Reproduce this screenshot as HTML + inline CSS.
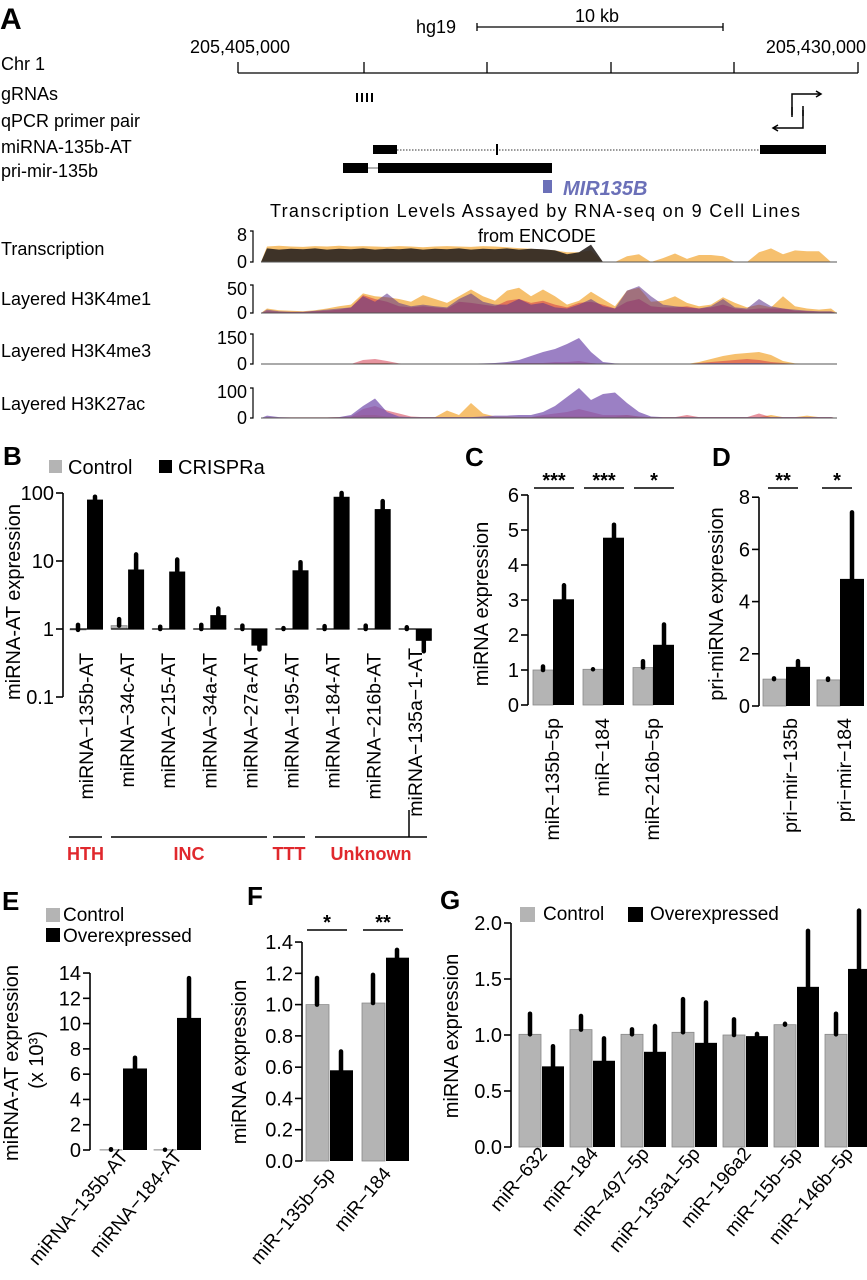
<!DOCTYPE html>
<html><head><meta charset="utf-8"><style>
html,body{margin:0;padding:0;background:#fff;}
svg{display:block;font-family:"Liberation Sans",Arial,sans-serif;}
</style></head><body>
<svg id="fig" width="867" height="1280" viewBox="0 0 867 1280" xmlns="http://www.w3.org/2000/svg">
<g id="panelA">
<text x="0" y="29" font-size="30" font-weight="bold">A</text>
<text x="416" y="33" font-size="18">hg19</text>
<g stroke="#000" stroke-width="1.3"><line x1="477" y1="27" x2="723" y2="27"/><line x1="477" y1="23" x2="477" y2="31"/><line x1="723" y1="23" x2="723" y2="31"/></g>
<text x="597" y="22" font-size="18" text-anchor="middle">10 kb</text>
<text x="240" y="53" font-size="18" text-anchor="middle">205,405,000</text>
<text x="866" y="53" font-size="18" text-anchor="end">205,430,000</text>
<text x="1" y="70" font-size="18">Chr 1</text>
<g stroke="#000" stroke-width="1.3">
<line x1="238" y1="73" x2="858" y2="73"/><line x1="238" y1="62" x2="238" y2="73"/><line x1="364" y1="62" x2="364" y2="73"/><line x1="487" y1="62" x2="487" y2="73"/><line x1="611" y1="62" x2="611" y2="73"/><line x1="734" y1="62" x2="734" y2="73"/><line x1="858" y1="62" x2="858" y2="73"/></g>
<text x="1" y="100" font-size="18">gRNAs</text>
<g stroke="#000" stroke-width="2"><line x1="357" y1="93" x2="357" y2="102"/><line x1="362" y1="93" x2="362" y2="102"/><line x1="367" y1="93" x2="367" y2="102"/><line x1="372" y1="93" x2="372" y2="102"/></g>
<text x="1" y="127" font-size="18">qPCR primer pair</text>
<g stroke="#000" stroke-width="1.5" fill="none">
<polyline points="792,117 792,94 820,94"/><polyline points="816,91 821,94 816,97"/><line x1="792" y1="107" x2="792" y2="115"/><line x1="803" y1="106" x2="803" y2="116"/><polyline points="803,110 803,128 774,128"/><polyline points="778,125 773,128 778,131"/></g>
<text x="1" y="153" font-size="18">miRNA-135b-AT</text>
<g>
<line x1="397" y1="150" x2="760" y2="150" stroke="#999" stroke-width="2" stroke-dasharray="1.5 1.5"/>
<rect x="373" y="145" width="24" height="9" fill="#000"/><rect x="496" y="144" width="2" height="11" fill="#000"/><rect x="760" y="145" width="66" height="9" fill="#000"/></g>
<text x="1" y="177" font-size="18">pri-mir-135b</text>
<g>
<line x1="368" y1="168" x2="378" y2="168" stroke="#999" stroke-width="1.5"/>
<rect x="343" y="163" width="25" height="10" fill="#000"/><rect x="378" y="163" width="174" height="10" fill="#000"/></g>
<rect x="543" y="180" width="9" height="13" fill="#6b70b8"/>
<text x="563" y="195" font-size="20" font-weight="bold" font-style="italic" fill="#6b70b8">MIR135B</text>
<text x="535" y="217" font-size="18" text-anchor="middle" textLength="530">Transcription Levels Assayed by RNA-seq on 9 Cell Lines</text>
<text x="537" y="242" font-size="18" text-anchor="middle">from ENCODE</text>
<text x="1" y="255" font-size="18">Transcription</text>
<text x="1" y="305" font-size="18">Layered H3K4me1</text>
<text x="1" y="357" font-size="18">Layered H3K4me3</text>
<text x="1" y="410" font-size="18">Layered H3K27ac</text>
<g id="tracks"></g>
</g>
<g id="charts"></g>
</svg>
<script>
const trDark = [3.5,3.2,3.4,3.3,3.5,3.2,3.4,3.3,3.5,3.2,3.4,3.3,3.5,3.2,3.4,3.3,3.5,3.2,3.4,3.3,3.5,3.2,3.4,3.3,3.0,2.0,2.5,4.5,0,0,0,0,0,0,0,0,0,0,0,0,0,0,0,0,0,0,0,0];
const trOrange = [4,4.2,4,3.9,4.1,4,4.2,4,4.1,4,3.9,4.1,4,3.8,4,4.1,4,3.9,4.1,4,3.8,3.6,3.4,3.2,3,2.5,2.5,3,0,0,1.5,2,0,1,2.2,0.8,1.8,1.8,1.5,0,0,2.5,3.5,2,3,2.8,2.8,0];
const me1Orange = [8,5,4,3,5,8,12,15,35,30,28,25,20,32,25,18,30,42,30,22,40,45,30,42,30,15,22,38,25,12,40,45,20,22,30,18,12,15,28,18,10,15,10,30,12,8,6,8];
const me1Purple = [6,3,2,2,4,6,8,10,30,20,35,18,12,15,12,10,25,35,20,15,15,25,15,18,10,8,15,25,12,8,40,48,30,15,12,10,8,12,25,10,8,25,12,8,6,4,3,3];
const me1Red = [3,2,2,2,3,4,6,10,32,25,20,12,10,12,10,8,20,18,15,12,22,25,18,22,15,10,18,20,15,8,20,25,12,10,10,12,8,10,15,8,6,8,8,8,4,3,2,2];
const me3Purple = [2,2,2,2,2,2,2,2,3,3,3,2,2,2,2,2,2,2,3,5,10,20,40,60,75,100,130,60,10,3,2,2,2,2,2,2,3,5,5,5,5,5,3,2,2,2,2,2];
const me3Orange = [0,0,0,0,0,0,0,0,5,5,5,0,0,0,0,0,0,0,0,0,5,5,5,5,5,5,5,5,0,0,0,0,0,0,0,0,10,25,40,50,55,60,45,15,3,2,2,2];
const me3Red = [0,0,0,0,0,0,0,0,20,25,15,3,0,0,0,0,0,0,0,0,3,5,5,5,10,10,15,5,0,0,0,0,0,0,0,0,5,10,15,20,25,20,10,5,0,0,0,0];
const k27Purple = [8,3,2,2,2,2,3,10,40,65,20,5,3,3,3,3,3,3,5,8,8,10,10,20,40,70,100,60,80,85,50,20,5,3,3,3,3,3,3,3,3,3,3,3,3,3,3,3];
const k27Orange = [3,2,2,2,2,2,3,5,10,10,5,3,3,3,3,25,10,50,15,5,5,3,3,5,5,5,5,5,5,5,10,5,3,3,3,3,3,3,3,3,3,3,10,3,3,8,3,3];
const k27Red = [2,2,2,2,2,2,3,5,30,40,25,15,5,3,3,3,3,3,3,3,3,3,3,10,15,20,30,20,10,10,10,5,3,3,3,10,3,3,3,3,3,15,3,3,3,3,3,3];
const trackTicks = [["8","0"],["50","0"],["150","0"],["100","0"]];

const bCats = ["miRNA\u2212135b-AT","miRNA\u221234c-AT","miRNA\u2212215-AT","miRNA\u221234a-AT","miRNA\u221227a-AT","miRNA\u2212195-AT","miRNA\u2212184-AT","miRNA\u2212216b-AT","miRNA\u2212135a\u22121-AT"];
const bCtrl = [0.97,1.12,1,1,1,1,1,1,1];
const bCtrlHi = [1.15,1.4,1.08,1.15,1.12,1.03,1.1,1.12,1.06];
const bCrispr = [80,7.5,7,1.6,0.57,7.3,88,58,0.67];
const bCrisprHi = [88,12.5,10.5,2.0,0.5,9.6,100,76,0.47];
const bTicks = [100,10,1,0.1];
const bTickLabels = ["100","10","1","0.1"];
const bGroups = ["HTH","INC","TTT","Unknown"];
const cCats = ["miR\u2212135b\u22125p","miR\u2212184","miR\u2212216b\u22125p"];
const cCtrl = [1.0,1.02,1.07];
const cCtrlHi = [1.1,1.02,1.25];
const cOe = [3.02,4.78,1.72];
const cOeHi = [3.42,5.15,2.3];
const cSig = ["***","***","*"];
const cTicks = [0,1,2,3,4,5,6];
const dCats = ["pri\u2212mir\u2212135b","pri\u2212mir\u2212184"];
const dCtrl = [1.03,1.0];
const dCtrlHi = [1.06,1.05];
const dOe = [1.5,4.87];
const dOeHi = [1.72,7.42];
const dSig = ["**","*"];
const dTicks = [0,2,4,6,8];
const eCats = ["miRNA\u2212135b-AT","miRNA\u2212184-AT"];
const eCtrl = [0.02,0.02];
const eCtrlHi = [0.06,0.02];
const eOe = [6.45,10.45];
const eOeHi = [7.3,13.6];
const eTicks = [0,2,4,6,8,10,12,14];
const fCats = ["miR\u2212135b\u22125p","miR\u2212184"];
const fCtrl = [1.0,1.01];
const fCtrlHi = [1.17,1.19];
const fOe = [0.58,1.3];
const fOeHi = [0.7,1.35];
const fSig = ["*","**"];
const fTicks = [0,0.2,0.4,0.6,0.8,1.0,1.2,1.4];
const gCats = ["miR\u2212632","miR\u2212184","miR\u2212497\u22125p","miR\u2212135a1\u22125p","miR\u2212196a2","miR\u221215b\u22125p","miR\u2212146b\u22125p"];
const gCtrl = [1.006,1.048,1.006,1.024,1.0,1.092,1.006];
const gCtrlHi = [1.19,1.17,1.05,1.32,1.14,1.10,1.19];
const gOe = [0.72,0.77,0.85,0.93,0.99,1.43,1.59];
const gOeHi = [0.9,0.97,1.08,1.29,1.01,1.93,2.11];
const gTicks = [0,0.5,1.0,1.5,2.0];

const NS = "http://www.w3.org/2000/svg";
const tracks = document.getElementById('tracks');
const charts = document.getElementById('charts');
function mk(tag, parent){ const e=document.createElementNS(NS,tag); parent.appendChild(e); return e; }
function txt(parent, s, x, y, size, anchor){ const t=mk('text',parent); t.textContent=s; t.setAttribute('x',x); t.setAttribute('y',y); t.setAttribute('font-size',size); t.setAttribute('text-anchor',anchor||'start'); return t; }

const trX0 = 261, trDx = 12;
function area(vals, base, scale, color, op, name){
  let d = 'M'+trX0+','+base;
  vals.forEach((v,i)=>{ const x=trX0+i*trDx+trDx/2; d+=' L'+x+','+(base-v*scale).toFixed(1); if(v===0){ d+=' L'+x+','+base; } });
  d += ' L'+(trX0+vals.length*trDx)+','+base+' Z';
  const p = mk('path',tracks);
  p.setAttribute('d',d); p.setAttribute('fill',color); p.setAttribute('fill-opacity',op);
  
  
}
const trackDefs = [
  {top:231,base:262,max:8,layers:[[trOrange,'#f4b04a',0.8,'transcription-orange'],[trDark,'#2a2420',0.9,'transcription-dark']]},
  {top:285,base:313,max:50,layers:[[me1Orange,'#f4b04a',0.8,'h3k4me1-orange'],[me1Red,'#d02a40',0.5,'h3k4me1-red'],[me1Purple,'#5b2f8a',0.55,'h3k4me1-purple']]},
  {top:334,base:364,max:150,layers:[[me3Orange,'#f4b04a',0.8,'h3k4me3-orange'],[me3Red,'#d02a40',0.5,'h3k4me3-red'],[me3Purple,'#7a55b0',0.75,'h3k4me3-purple']]},
  {top:388,base:418,max:100,layers:[[k27Orange,'#f4b04a',0.8,'h3k27ac-orange'],[k27Red,'#d02a40',0.5,'h3k27ac-red'],[k27Purple,'#7a55b0',0.75,'h3k27ac-purple']]}
];
trackDefs.forEach((t,k)=>{
  const sc=(t.base-t.top)/t.max;
  t.layers.forEach(l=>area(l[0],t.base,sc,l[1],l[2],l[3]));
  const bl = mk('line',tracks);
  bl.setAttribute('x1',trX0); bl.setAttribute('x2',trX0+48*trDx); bl.setAttribute('y1',t.base); bl.setAttribute('y2',t.base); bl.setAttribute('stroke','#555'); bl.setAttribute('stroke-width','1');
  
  
  const br = mk('polyline',tracks);
  br.setAttribute('points',(250)+','+t.top+' 253,'+t.top+' 253,'+t.base+' 250,'+t.base); br.setAttribute('fill','none'); br.setAttribute('stroke','#000'); br.setAttribute('stroke-width','1.2');
  
  
  const t1 = txt(tracks, trackTicks[k][0], 247, t.top+10, 18, 'end');
  
  
  const t0 = txt(tracks, trackTicks[k][1], 247, t.base+6, 18, 'end');
  
  
});

function line(parent,x1,y1,x2,y2,w,col){ const l=mk('line',parent); l.setAttribute('x1',x1); l.setAttribute('y1',y1); l.setAttribute('x2',x2); l.setAttribute('y2',y2); l.setAttribute('stroke',col||'#000'); l.setAttribute('stroke-width',w); return l; }
function yAxis(g, ax, ticks, labels, y, size){
  const top = Math.min(...ticks.map(y)), bot = Math.max(...ticks.map(y));
  const a = line(g, ax, top, ax, bot, 1.6);
  
  
  ticks.forEach((t,i)=>{
    const tk = line(g, ax-7, y(t), ax, y(t), 1.6);
    
    
    const lb = txt(g, labels[i], ax-9, y(t)+7, size||20, 'end');
    
    
  });
}
function bar(g, x, w, y0, y1, fill, name){
  const r = mk('rect', g);
  r.setAttribute('x',x); r.setAttribute('width',w);
  r.setAttribute('y',Math.min(y0,y1)); r.setAttribute('height',Math.max(Math.abs(y1-y0),0.01));
  r.setAttribute('fill',fill);
  if(fill!=='#000'){ r.setAttribute('stroke','#888'); r.setAttribute('stroke-width','0.8'); }
  
  
}
function err(g, x, ya, yb){
  const l = line(g, x, ya, x, yb, 4.5);
  l.setAttribute('stroke-linecap','round');
  
  
}
function vLabel(g, s, x, yTop, size){
  const t = txt(g, s, x, yTop, size, 'end');
  t.setAttribute('dominant-baseline','central');
  t.setAttribute('transform','rotate(-90 '+x+' '+yTop+')');
  
  
}
function dLabel(g, s, x, y, size){
  const t = txt(g, s, x, y, size, 'end');
  t.setAttribute('transform','rotate(-50 '+x+' '+y+')');
  
  
}
function yTitle(g, s, x, y, size){
  const t = txt(g, s, x, y, size||20, 'middle');
  t.setAttribute('dominant-baseline','central');
  t.setAttribute('transform','rotate(-90 '+x+' '+y+')');
  
  
  return t;
}
function letter(g, s, x, y){
  const t = txt(g, s, x, y, 26, 'start'); t.setAttribute('font-weight','bold');
  
  
}
function legendBox(g, x, y, w, fill, label, tx, ty, size){
  const r = mk('rect', g); r.setAttribute('x',x); r.setAttribute('y',y); r.setAttribute('width',w); r.setAttribute('height',w); r.setAttribute('fill',fill);
  
  
  const t = txt(g, label, tx, ty, size||20, 'start');
  
  
}
function sig(g, s, x1, x2, yl){
  const l = line(g, x1, yl, x2, yl, 1.5);
  
  
  const t = txt(g, s, (x1+x2)/2, yl-1, 20, 'middle'); t.setAttribute('font-weight','bold');
  
  
}
const GRAY = '#b4b4b4';

(function(){
  const g = mk('g', charts);
  
  
  const y = v => 629 - 68*Math.log10(v);
  letter(g,'B',3,465);
  legendBox(g,49,460,13,GRAY,'Control',68,474);
  legendBox(g,159,460,13,'#000','CRISPRa',178,474);
  yAxis(g, 63, bTicks, bTickLabels, y);
  yTitle(g, 'miRNA-AT expression', 14, 602);
  bCats.forEach((c,i)=>{
    const gx = 70 + 41.1*i;
    bar(g, gx, 16, y(1), y(bCtrl[i]), GRAY, 'bar-control');
    bar(g, gx+17, 16, y(1), y(bCrispr[i]), '#000', 'bar-crispra');
    const bl = line(g, gx, y(1), gx+33, y(1), 1.2);
    
    
    err(g, gx+8, y(bCtrl[i]), y(bCtrlHi[i]));
    err(g, gx+25, y(bCrispr[i]), y(bCrisprHi[i]));
    vLabel(g, c, gx+17, i===8?648:653, 19.5);
  });
  const spans = [[69,102],[111,267],[273,305],[315,427]];
  spans.forEach((s,i)=>{
    const l = line(g, s[0], 837, s[1], 837, 1.5);
    
    
    const t = txt(g, bGroups[i], (s[0]+s[1])/2, 860, 18, 'middle');
    t.setAttribute('font-weight','bold'); t.setAttribute('fill','#e0282d');
    
    
  });
  const vt = line(g, 409, 810, 409, 837, 1.5);
  
  
})();

(function(){
  const g = mk('g', charts);
  
  
  const y = v => 705 - 35*v;
  letter(g,'C',465,466);
  yAxis(g, 528, cTicks, cTicks.map(String), y);
  yTitle(g, 'miRNA expression', 482, 604);
  cCats.forEach((c,i)=>{
    const gx = 533 + 50*i;
    bar(g, gx, 20, y(0), y(cCtrl[i]), GRAY, 'bar-control');
    bar(g, gx+20, 21, y(0), y(cOe[i]), '#000', 'bar-treated');
    err(g, gx+10, y(cCtrl[i]), y(cCtrlHi[i]));
    err(g, gx+31, y(cOe[i]), y(cOeHi[i]));
    vLabel(g, c, gx+20, 718, 19.5);
    sig(g, cSig[i], gx+1, gx+41, 488);
  });
})();

(function(){
  const g = mk('g', charts);
  
  
  const y = v => 706 - 26.1*v;
  letter(g,'D',712,466);
  yAxis(g, 759, dTicks, dTicks.map(String), y);
  yTitle(g, 'pri-miRNA expression', 717, 604);
  dCats.forEach((c,i)=>{
    const gx = 763 + 54*i;
    bar(g, gx, 23, y(0), y(dCtrl[i]), GRAY, 'bar-control');
    bar(g, gx+23, 24, y(0), y(dOe[i]), '#000', 'bar-treated');
    err(g, gx+11, y(dCtrl[i]), y(dCtrlHi[i]));
    err(g, gx+35, y(dOe[i]), y(dOeHi[i]));
    vLabel(g, c, gx+28, 718, 19.5);
    sig(g, dSig[i], gx+5, gx+35, 488);
  });
})();

(function(){
  const g = mk('g', charts);
  
  
  const y = v => 1150 - 12.64*v;
  letter(g,'E',2,910);
  legendBox(g,46,908,14,GRAY,'Control',63,921,19);
  legendBox(g,46,928,14,'#000','Overexpressed',63,942,19);
  yAxis(g, 90, eTicks, eTicks.map(String), y);
  yTitle(g, 'miRNA-AT expression', 12, 1063);
  yTitle(g, '(x 10\u00b3)', 37, 1060);
  eCats.forEach((c,i)=>{
    const gx = 100 + 54*i;
    bar(g, gx, 22, y(0), y(eCtrl[i]), GRAY, 'bar-control');
    bar(g, gx+23, 24, y(0), y(eOe[i]), '#000', 'bar-overexpressed');
    err(g, gx+11, y(eCtrl[i]), y(eCtrlHi[i]));
    err(g, gx+35, y(eOe[i]), y(eOeHi[i]));
    dLabel(g, c, gx+29, 1157, 19);
  });
})();

(function(){
  const g = mk('g', charts);
  
  
  const y = v => 1161 - 156.4*v;
  letter(g,'F',247,905);
  yAxis(g, 302, fTicks, fTicks.map(v=>v.toFixed(1)), y);
  yTitle(g, 'miRNA expression', 240, 1062);
  fCats.forEach((c,i)=>{
    const gx = 306 + 56*i;
    bar(g, gx, 23, y(0), y(fCtrl[i]), GRAY, 'bar-control');
    bar(g, gx+24, 23, y(0), y(fOe[i]), '#000', 'bar-overexpressed');
    err(g, gx+11, y(fCtrl[i]), y(fCtrlHi[i]));
    err(g, gx+35, y(fOe[i]), y(fOeHi[i]));
    dLabel(g, c, gx+30, 1174, 19);
    sig(g, fSig[i], gx+1, gx+41, 930);
  });
})();

(function(){
  const g = mk('g', charts);
  
  
  const y = v => 1147 - 112*v;
  letter(g,'G',440,909);
  legendBox(g,520,907,15,GRAY,'Control',543,920,19);
  legendBox(g,628,907,15,'#000','Overexpressed',650,920,19);
  yAxis(g, 511, gTicks, gTicks.map(v=>v.toFixed(1)), y);
  yTitle(g, 'miRNA expression', 452, 1036);
  gCats.forEach((c,i)=>{
    const gx = 519 + 51*i;
    bar(g, gx, 22, y(0), y(gCtrl[i]), GRAY, 'bar-control');
    bar(g, gx+23, 22, y(0), y(gOe[i]), '#000', 'bar-overexpressed');
    err(g, gx+11, y(gCtrl[i]), y(gCtrlHi[i]));
    err(g, gx+34, y(gOe[i]), y(gOeHi[i]));
    dLabel(g, c, gx+29, 1154, 19);
  });
})();
</script>
</body></html>
